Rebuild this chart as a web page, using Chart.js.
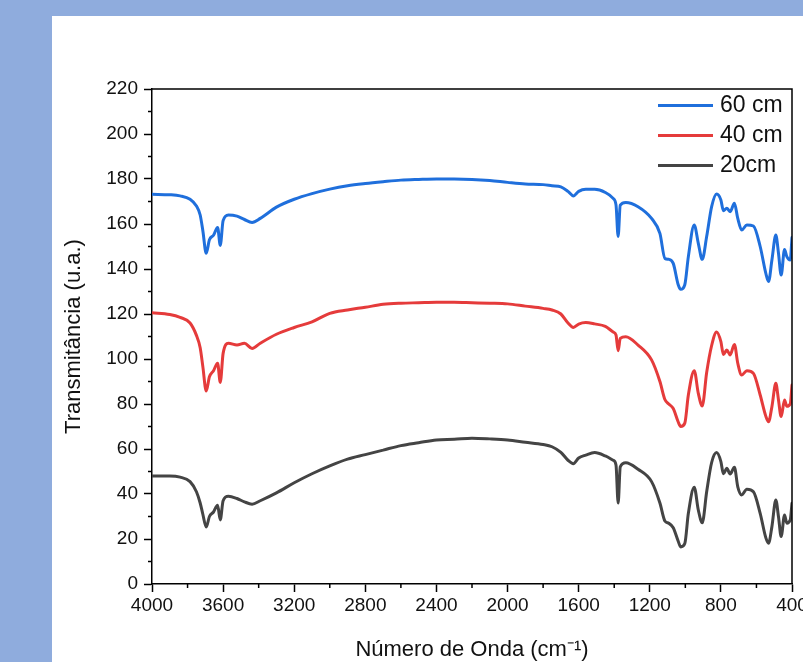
<!DOCTYPE html>
<html lang="pt">
<head>
<meta charset="utf-8">
<title>FTIR - Transmitância</title>
<script src="https://cdn.jsdelivr.net/npm/chart.js@4.4.1/dist/chart.umd.min.js"></script>
<style>
    html, body { margin: 0; padding: 0; width: 803px; height: 662px; overflow: hidden; background: #8FACDD; }
    #panel { position: absolute; left: 52px; top: 16px; width: 800px; height: 646px; background: #ffffff; }
    canvas { display: block; }
</style>
</head>
<body>
<div id="panel"><canvas id="ftirChart" width="800" height="646"></canvas></div>
<script>
// Número de onda (cm-1)
const wavenumbers = [4000, 3900, 3842, 3786, 3750, 3729, 3714, 3695, 3677, 3654, 3631, 3616, 3600, 3570, 3522, 3480, 3437, 3391,
    3300, 3200, 3100, 3000, 2900, 2800, 2700, 2600, 2500, 2400, 2300, 2200, 2100, 2000, 1900, 1800, 1750, 1700, 1660, 1630,
    1600, 1560, 1510, 1450, 1406, 1390, 1378, 1366, 1335, 1266, 1190, 1143, 1115, 1093, 1068, 1040, 1026, 1003, 983, 950,
    927, 905, 880, 852, 824, 800, 786, 767, 748, 724, 705, 683, 654, 617, 579, 547, 532, 513, 491, 476, 461, 442, 429, 410, 400];

// Transmitância (u.a.) de cada profundidade
const t60cm = [173.2, 173, 172.5, 171, 168, 164, 157, 147, 153, 155, 158.5, 150.5, 161.5, 164, 163.5, 162, 160.7, 162.5,
    167.5, 171, 173.5, 175.5, 177, 178, 178.8, 179.5, 179.8, 180, 180, 179.8, 179.3, 178.5, 177.8, 177.5, 177, 176.5, 174.5, 172.5,
    174.5, 175.4, 175.4, 174, 171.4, 168.5, 154.5, 168.4, 169.6, 167.7, 162.5, 155.8, 144.7, 144.3, 142.5, 133, 131, 133, 145.5, 159.6,
    151.4, 144.3, 154.4, 167.7, 173.3, 170.7, 165.9, 167, 165.5, 169.2, 162.5, 157.3, 159.6, 159.1, 150, 138, 134.4, 144, 155.1, 147, 137.3, 148.7, 145.5, 144, 154];

const t40cm = [120.6, 119.8, 118.5, 116, 110.5, 105, 96.6, 85.8, 92.1, 94.8, 98.1, 89.6, 102.5, 107, 106.2, 107, 104.7, 107,
    111, 114, 116.5, 120.3, 121.8, 123, 124.3, 124.8, 125, 125.2, 125.2, 125, 124.8, 124.5, 123.5, 122.5, 121.8, 120, 116, 114,
    115.5, 116.2, 115.6, 114.5, 112, 110.7, 103.7, 109.2, 109.9, 106.2, 99.6, 90, 82, 80, 78, 72, 70, 71.5, 84, 94.8,
    84.7, 79.1, 94, 106, 112, 107.7, 102, 104, 101.8, 106.5, 98.1, 92.9, 94.8, 93.6, 84, 74.5, 72.1, 78.8, 89.2, 81.8, 74.4, 81.8, 79, 80, 88.4];

const t20cm = [48, 48, 47.5, 45.5, 41, 36, 31, 25.3, 30, 32, 35, 28.5, 37, 39, 38, 36.5, 35.5, 37,
    40.5, 45, 49, 52.5, 55.5, 57.5, 59.5, 61.5, 62.8, 64, 64.3, 64.8, 64.5, 64, 63, 62, 61, 58.5, 55, 53.5,
    56, 57.3, 58.4, 56.9, 55, 52.9, 36, 52.1, 53.9, 51, 45.5, 36, 28, 27, 25, 19, 16.5, 18, 31.4, 43,
    32.9, 27.2, 41, 54, 58.4, 54.4, 49, 51.4, 48.9, 51.9, 43.2, 39.6, 42.1, 41, 31.4, 20.5, 18.1, 25.5, 37.3, 29.9, 21.1, 30.7, 27, 28.4, 35.9];

const seriesLabels = ['60 cm', '40 cm', '20cm'];

const FONT = '"Liberation Sans", Arial, Helvetica, sans-serif';

function toPoints(values) {
    return values.map((v, i) => ({ x: wavenumbers[i], y: v }));
}

// moldura superior e direita do gráfico
const framePlugin = {
    id: 'frame',
    afterDraw(chart) {
        const { ctx, chartArea } = chart;
        ctx.save();
        ctx.strokeStyle = '#000';
        ctx.lineWidth = 1.5;
        ctx.beginPath();
        ctx.moveTo(chartArea.left, chartArea.top);
        ctx.lineTo(chartArea.right, chartArea.top);
        ctx.lineTo(chartArea.right, chartArea.bottom);
        ctx.stroke();
        ctx.restore();
    }
};

// ticks menores entre os ticks principais
const minorTicksPlugin = {
    id: 'minorTicks',
    afterDraw(chart) {
        const { ctx, chartArea } = chart;
        ctx.save();
        ctx.strokeStyle = '#000';
        ctx.lineWidth = 1.5;
        ['x', 'y'].forEach(id => {
            const scale = chart.scales[id];
            const t = scale.ticks;
            for (let i = 0; i < t.length - 1; i++) {
                const mid = (t[i].value + t[i + 1].value) / 2;
                const p = scale.getPixelForValue(mid);
                ctx.beginPath();
                if (id === 'x') {
                    ctx.moveTo(p, chartArea.bottom);
                    ctx.lineTo(p, chartArea.bottom + 4);
                } else {
                    ctx.moveTo(chartArea.left, p);
                    ctx.lineTo(chartArea.left - 4, p);
                }
                ctx.stroke();
            }
        });
        ctx.restore();
    }
};

// legenda dentro da área do gráfico (canto superior direito)
const innerLegendPlugin = {
    id: 'innerLegend',
    afterDatasetsDraw(chart) {
        const { ctx, chartArea } = chart;
        ctx.save();
        ctx.font = '23px ' + FONT;
        ctx.textBaseline = 'middle';
        chart.data.datasets.forEach((ds, i) => {
            const y = chartArea.top + 16.5 + i * 30;
            ctx.strokeStyle = ds.borderColor;
            ctx.lineWidth = 3;
            ctx.beginPath();
            ctx.moveTo(chartArea.right - 134, y);
            ctx.lineTo(chartArea.right - 79, y);
            ctx.stroke();
            ctx.fillStyle = '#111';
            ctx.fillText(ds.label, chartArea.right - 72, y);
        });
        ctx.restore();
    }
};

document.addEventListener('DOMContentLoaded', function() {
    const ctx = document.getElementById('ftirChart');
    if (!ctx) return;

    new Chart(ctx, {
        type: 'line',
        data: {
            datasets: [
                { label: seriesLabels[0], data: toPoints(t60cm), borderColor: '#1F6FDC' },
                { label: seriesLabels[1], data: toPoints(t40cm), borderColor: '#E53B3B' },
                { label: seriesLabels[2], data: toPoints(t20cm), borderColor: '#444444' }
            ]
        },
        options: {
            responsive: false,
            animation: false,
            layout: { padding: { top: 73, right: 60, bottom: 0, left: 0 } },
            elements: {
                point: { radius: 0 },
                line: { borderWidth: 3, cubicInterpolationMode: 'monotone', borderJoinStyle: 'round', borderCapStyle: 'round' }
            },
            plugins: {
                legend: { display: false },
                tooltip: { enabled: false }
            },
            scales: {
                x: {
                    type: 'linear',
                    reverse: true, // número de onda decrescente
                    min: 400,
                    max: 4000,
                    ticks: {
                        stepSize: 400, autoSkip: false, maxRotation: 0, padding: 2, color: '#111',
                        font: { size: 19, family: FONT },
                        callback: (v) => String(v) // sem separador de milhar
                    },
                    grid: { drawOnChartArea: false, tickLength: 8, tickWidth: 1.5, tickColor: '#000' },
                    border: { color: '#000', width: 1.5 },
                    title: { display: true, text: 'Número de Onda (cm⁻¹)', color: '#111', padding: 0, font: { size: 22, family: FONT, lineHeight: 1.1 } },
                    afterFit: (scale) => { scale.height = 78; }
                },
                y: {
                    min: 0,
                    max: 220,
                    ticks: { stepSize: 20, autoSkip: false, padding: 6, color: '#111', font: { size: 19, family: FONT } },
                    grid: { drawOnChartArea: false, tickLength: 8, tickWidth: 1.5, tickColor: '#000' },
                    border: { color: '#000', width: 1.5 },
                    title: { display: true, text: 'Transmitância (u.a.)', color: '#111', padding: { top: 10, bottom: 0 }, font: { size: 22, family: FONT, lineHeight: 1.1 } },
                    afterFit: (scale) => { scale.width = 100; }
                }
            }
        },
        plugins: [framePlugin, minorTicksPlugin, innerLegendPlugin]
    });
});
</script>
</body>
</html>
